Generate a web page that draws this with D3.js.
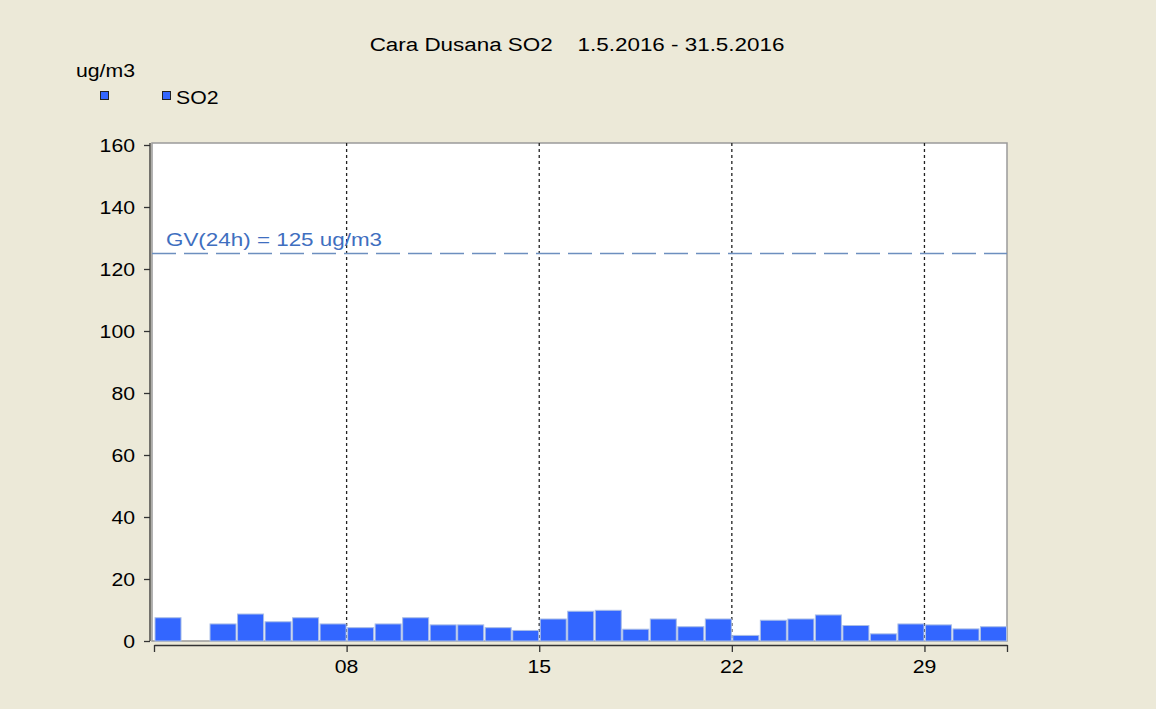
<!DOCTYPE html>
<meta charset="utf-8">
<script src="https://d3js.org/d3.v7.min.js"></script>
<style>
  body { margin: 0; background: #ece9d8; }
  svg text { font-family: "Liberation Sans", Arial, sans-serif; }
</style>
<div id="my_dataviz"></div>
<script>

  // daily SO2 means, May 2016 (day 2 has no data)
  var days = [1, 2, 3, 4, 5, 6, 7, 8, 9, 10, 11, 12, 13, 14, 15, 16,
              17, 18, 19, 20, 21, 22, 23, 24, 25, 26, 27, 28, 29, 30, 31];
  var so2 = [7.5, null, 5.5, 8.7, 6.2, 7.5, 5.5, 4.3, 5.5, 7.5, 5.2, 5.2, 4.3, 3.4, 7.1, 9.6,
             9.9, 3.8, 7.1, 4.6, 7.1, 1.8, 6.7, 7.1, 8.4, 5.0, 2.3, 5.5, 5.2, 3.9, 4.6];
  var yTicks = [0, 20, 40, 60, 80, 100, 120, 140, 160];
  var xTicks = [1, 8, 15, 22, 29, 32];
  var xTickLabels = ["", "08", "15", "22", "29", ""];
  var gridDays = [8, 15, 22, 29];
  var limitValue = 125;
  var limitLabel = "GV(24h) = 125 ug/m3";
  var title = "Cara Dusana SO2    1.5.2016 - 31.5.2016";

  var width = 1156, height = 709;
  var plotLeft = 152, plotRight = 1007, plotTop = 143, plotBottom = 641;
  var stretch = 1.18; // the source picture is a bit wider than tall

  var svg = d3.select("#my_dataviz")
    .append("svg")
      .attr("width", width)
      .attr("height", height);

  svg.append("rect")
    .attr("width", width).attr("height", height)
    .attr("fill", "#ece9d8");

  // text helper, stretched horizontally like the source
  function addText(px, py, str, size, anchor, color) {
    return svg.append("g")
      .attr("transform", "translate(" + px + "," + py + ") scale(" + stretch + ",1)")
      .append("text")
        .attr("text-anchor", anchor || "start")
        .style("font-size", size + "px")
        .style("fill", color || "#000")
        .style("white-space", "pre")
        .text(str);
  }

  var x = d3.scaleLinear().domain([1, 32]).range([154, 1007]);
  var y = d3.scaleLinear().domain([0, 160]).range([plotBottom, plotTop + 2]);

  // plot area
  svg.append("rect")
    .attr("x", plotLeft).attr("y", plotTop)
    .attr("width", plotRight - plotLeft).attr("height", plotBottom - plotTop)
    .attr("fill", "white")
    .attr("stroke", "#9a9a9a")
    .attr("stroke-width", 1.5);

  // vertical dotted grid at week marks
  svg.selectAll(".grid")
    .data(gridDays)
    .enter().append("line")
      .attr("x1", function(d) { return x(d); })
      .attr("x2", function(d) { return x(d); })
      .attr("y1", plotTop)
      .attr("y2", plotBottom)
      .attr("stroke", "#222")
      .attr("stroke-width", 1.3)
      .attr("stroke-dasharray", "3,3");

  // bars
  var data = days.map(function(d, i) { return {day: d, value: so2[i]}; })
    .filter(function(d) { return d.value != null; });

  svg.selectAll(".bar")
    .data(data)
    .enter().append("rect")
      .attr("x", function(d) { return x(d.day) + 1; })
      .attr("y", function(d) { return y(d.value); })
      .attr("width", function(d) { return x(d.day + 1) - x(d.day) - 1.5; })
      .attr("height", function(d) { return y(0) - y(d.value); })
      .attr("fill", "#3366ff")
      .attr("stroke", "#a9bde6")
      .attr("stroke-width", 1);

  // limit line
  svg.append("line")
    .attr("x1", plotLeft).attr("x2", plotRight)
    .attr("y1", y(limitValue)).attr("y2", y(limitValue))
    .attr("stroke", "#6d8fbf")
    .attr("stroke-width", 1.5)
    .attr("stroke-dasharray", "24,8");

  addText(166, y(limitValue) - 8, limitLabel, 19, "start", "#3f6fc0");

  // y axis
  var yAxis = svg.append("g")
    .attr("transform", "translate(150,0)")
    .call(d3.axisLeft(y).tickValues(yTicks).tickSize(6).tickSizeOuter(0).tickFormat(""));
  yAxis.selectAll("line").attr("stroke", "#333").attr("stroke-width", 1.3);
  yAxis.select(".domain").attr("stroke", "#333").attr("stroke-width", 1.3)
    .attr("d", "M0," + plotTop + "V" + plotBottom);
  yTicks.forEach(function(t) {
    addText(135, y(t) + 6.5, String(t), 18, "end");
  });

  // x axis
  var xAxis = svg.append("g")
    .attr("transform", "translate(0,645)")
    .call(d3.axisBottom(x).tickValues(xTicks).tickSize(7).tickSizeOuter(0).tickFormat(""));
  xAxis.selectAll("line").attr("stroke", "#333").attr("stroke-width", 1.3);
  xAxis.select(".domain").attr("stroke", "#333").attr("stroke-width", 1.3);
  xTicks.forEach(function(t, i) {
    if (xTickLabels[i]) addText(x(t), 673, xTickLabels[i], 18, "middle");
  });

  // title
  addText(577, 51, title, 19, "middle");

  // unit
  addText(76, 77, "ug/m3", 18, "start");

  // legend
  svg.append("rect")
    .attr("x", 100.5).attr("y", 91.5).attr("width", 8).attr("height", 8)
    .attr("fill", "#3366ff").attr("stroke", "#222");
  svg.append("rect")
    .attr("x", 162.5).attr("y", 91.5).attr("width", 8).attr("height", 8)
    .attr("fill", "#3366ff").attr("stroke", "#222");
  addText(176, 104, "SO2", 18, "start");

</script>
